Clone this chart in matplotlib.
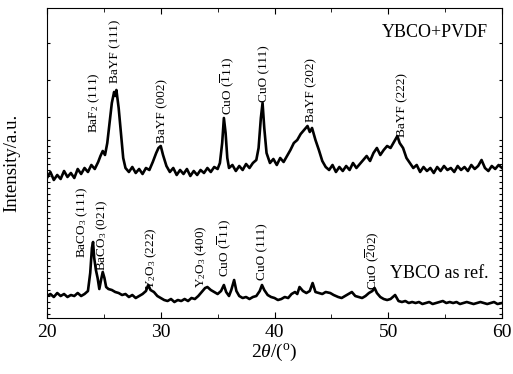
import matplotlib
matplotlib.use('Agg')
import matplotlib.pyplot as plt

plt.rcParams['font.family'] = ['Liberation Serif', 'DejaVu Serif']
plt.rcParams['mathtext.fontset'] = 'custom'
plt.rcParams['mathtext.rm'] = 'Liberation Serif'
plt.rcParams['mathtext.it'] = 'Liberation Serif:italic'

# YBCO+PVDF pattern (2theta, intensity a.u.)
tt_pvdf = [20.0, 20.3, 20.6, 20.9, 21.2, 21.5, 21.8, 22.1, 22.4, 22.7, 23.0, 23.3, 23.6, 23.9,
           24.2, 24.5, 24.7, 24.9, 25.1, 25.3, 25.5, 25.7, 25.9, 26.0, 26.1, 26.3, 26.5, 26.7,
           26.9, 27.2, 27.5, 27.8, 28.1, 28.4, 28.7, 29.0, 29.3, 29.6, 29.8, 30.0, 30.2, 30.5,
           30.8, 31.1, 31.4, 31.7, 32.0, 32.3, 32.6, 32.9, 33.2, 33.5, 33.8, 34.1, 34.4, 34.7,
           35.0, 35.2, 35.4, 35.55, 35.7, 35.85, 36.0, 36.3, 36.6, 36.9, 37.2, 37.5, 37.8, 38.1,
           38.4, 38.6, 38.8, 38.95, 39.1, 39.3, 39.6, 39.9, 40.2, 40.5, 40.8, 41.1, 41.4, 41.7,
           42.0, 42.3, 42.6, 42.9, 43.1, 43.3, 43.6, 43.9, 44.2, 44.5, 44.8, 45.1, 45.4, 45.7,
           46.0, 46.3, 46.6, 46.9, 47.2, 47.5, 47.8, 48.1, 48.4, 48.7, 49.0, 49.3, 49.6, 49.9,
           50.2, 50.5, 50.8, 51.0, 51.3, 51.6, 51.9, 52.2, 52.5, 52.8, 53.1, 53.4, 53.7, 54.0,
           54.3, 54.6, 54.9, 55.2, 55.5, 55.8, 56.1, 56.4, 56.7, 57.0, 57.3, 57.6, 57.9, 58.2,
           58.5, 58.8, 59.1, 59.4, 59.7, 60.0]
i_pvdf = [140, 146, 138, 143, 139, 147, 141, 145, 140, 149, 144, 150, 146, 153,
          149, 156, 162, 167, 163, 175, 195, 215, 226, 222, 228, 210, 185, 160,
          150, 146, 151, 145, 149, 144, 150, 148, 156, 165, 170, 172, 163, 152,
          146, 150, 143, 148, 144, 149, 142, 147, 143, 148, 145, 150, 146, 151,
          149, 155, 175, 200, 185, 160, 150, 153, 147, 152, 148, 154, 150, 155,
          158, 170, 200, 215, 190, 165, 155, 159, 153, 160, 156, 162, 168, 175,
          178, 184, 188, 192, 186, 190, 178, 168, 157, 151, 148, 153, 146, 151,
          147, 152, 148, 155, 150, 154, 158, 162, 157, 165, 170, 163, 168, 172,
          170, 176, 182, 175, 170, 160, 155, 150, 153, 146, 151, 147, 150, 145,
          151, 147, 152, 148, 150, 146, 152, 148, 151, 147, 153, 149, 152, 158,
          150, 147, 152, 149, 153, 150]

# YBCO reference pattern
tt_ref = [20.0, 20.3, 20.6, 20.9, 21.2, 21.5, 21.8, 22.1, 22.4, 22.7, 23.0, 23.3, 23.6, 23.8,
          23.95, 24.05, 24.15, 24.3, 24.45, 24.6, 24.75, 24.9, 25.05, 25.2, 25.4, 25.7, 26.0,
          26.3, 26.6, 26.9, 27.2, 27.5, 27.8, 28.1, 28.4, 28.7, 28.9, 29.1, 29.4, 29.7, 30.0,
          30.3, 30.6, 30.9, 31.2, 31.5, 31.8, 32.1, 32.4, 32.7, 33.0, 33.3, 33.6, 33.9, 34.1,
          34.4, 34.7, 35.0, 35.3, 35.55, 35.75, 36.0, 36.2, 36.45, 36.65, 36.9, 37.2, 37.5,
          37.8, 38.1, 38.4, 38.7, 38.9, 39.1, 39.4, 39.7, 40.0, 40.3, 40.6, 40.9, 41.2, 41.5,
          41.8, 42.0, 42.2, 42.5, 42.8, 43.1, 43.35, 43.6, 43.9, 44.2, 44.5, 44.9, 45.2, 45.6,
          45.9, 46.2, 46.5, 46.8, 47.1, 47.4, 47.7, 48.0, 48.3, 48.6, 48.8, 49.0, 49.3, 49.6,
          49.9, 50.2, 50.6, 50.9, 51.2, 51.5, 51.8, 52.1, 52.4, 52.7, 53.0, 53.3, 53.6, 53.9,
          54.2, 54.5, 54.8, 55.1, 55.4, 55.7, 56.0, 56.3, 56.6, 56.9, 57.2, 57.5, 57.8, 58.1,
          58.4, 58.7, 59.0, 59.3, 59.6, 60.0]
i_ref = [22, 24, 21, 25, 22, 24, 21, 23, 22, 25, 22, 24, 27, 45,
         70, 76, 60, 48, 40, 29, 38, 46, 40, 31, 29, 28, 26,
         25, 23, 24, 21, 23, 20, 22, 24, 27, 33, 28, 26, 22, 20,
         18, 17, 19, 16, 18, 17, 19, 17, 20, 19, 22, 26, 30, 31,
         28, 26, 24, 27, 33, 26, 22, 28, 38, 27, 22, 20, 21,
         19, 21, 22, 27, 33, 28, 23, 21, 20, 18, 19, 21, 20, 24,
         26, 24, 31, 27, 25, 27, 35, 26, 25, 24, 26, 25, 23, 21,
         20, 22, 24, 26, 22, 21, 20, 22, 25, 27, 30, 25, 21, 19,
         18, 19, 23, 17, 16, 17, 15, 16, 15, 16, 14, 15, 16, 14,
         15, 16, 17, 15, 16, 15, 16, 14, 15, 16, 15, 14, 15, 16,
         15, 14, 15, 16, 14, 15]

# peak labels: text, 2theta, baseline of text (a.u.)
lab_pvdf = ['BaF$_2$ (111)', 'BaYF (111)', 'BaYF (002)', r'CuO ($\overline{1}$11)',
            'CuO (111)', 'BaYF (202)', 'BaYF (222)']
lab_pvdf_x = [24.2, 26.0, 30.1, 35.8, 39.1, 43.2, 51.2]
lab_pvdf_y = [185, 235, 175, 203, 216, 196, 181]

lab_ref = ['BaCO$_3$ (111)', 'BaCO$_3$ (021)', 'Y$_2$O$_3$ (222)', 'Y$_2$O$_3$ (400)',
           r'CuO ($\overline{1}$11)', 'CuO (111)', r'CuO ($\overline{2}$02)']
lab_ref_x = [23.1, 24.9, 29.2, 33.6, 35.6, 38.9, 48.6]
lab_ref_y = [60, 47, 28, 30, 41, 38, 28]

ytick_pos = [275, 238, 201, 178, 172, 166, 160, 154, 148, 142, 136, 130, 124, 118, 112,
             106, 100, 94, 88, 82, 76, 70, 64, 58, 52, 46, 40, 34, 28, 22, 16, 10, 4]

fig = plt.figure(figsize=(5.13, 3.74), dpi=100)
ax = fig.add_axes([0.0916, 0.1497, 0.887, 0.829])

ax.plot(tt_pvdf, i_pvdf, color='black', lw=1.9)
ax.plot(tt_ref, i_ref, color='black', lw=1.9)

for t, x, y in zip(lab_pvdf, lab_pvdf_x, lab_pvdf_y):
    ax.text(x, y, t, rotation=90, ha='center', va='bottom', fontsize=9.5)
for t, x, y in zip(lab_ref, lab_ref_x, lab_ref_y):
    ax.text(x, y, t, rotation=90, ha='center', va='bottom', fontsize=9.5)

ax.text(58.8, 285, 'YBCO+PVDF', ha='right', va='center', fontsize=13)
ax.text(58.8, 45, 'YBCO as ref.', ha='right', va='center', fontsize=13)

ax.set_xlim(20, 60)
ax.set_ylim(0, 310)
ax.set_xticks([20, 30, 40, 50, 60])
ax.set_xticks([25, 35, 45, 55], minor=True)
ax.set_yticks(ytick_pos)
ax.set_yticklabels([])
ax.tick_params(axis='both', which='both', direction='in', top=True, right=True)
ax.tick_params(axis='x', which='major', length=4, labelsize=14, pad=4)
ax.tick_params(axis='x', which='minor', length=3)
ax.tick_params(axis='y', length=2.5)

ax.set_xlabel(r'2$\theta$/($^{\rm o}$)', fontsize=14, labelpad=1)
ax.set_ylabel('Intensity/a.u.', fontsize=13.5, labelpad=16)

fig.savefig('out.png', dpi=100)
